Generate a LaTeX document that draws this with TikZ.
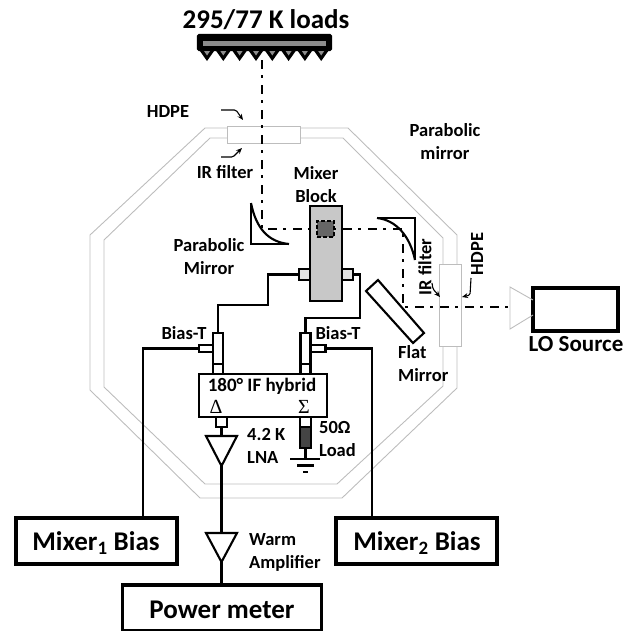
\documentclass[tikz,border=0pt]{standalone}
\usepackage{fontspec}
\setmainfont{Carlito}
\newfontfamily\symfont{Liberation Serif}
\usetikzlibrary{arrows.meta, calc}
\definecolor{wallGray}{HTML}{BDBDBD}
\definecolor{blockGray}{HTML}{C8C8C8}
\definecolor{stubGray}{HTML}{E4E4E4}
\definecolor{chipGray}{HTML}{666666}
\definecolor{loadGray}{HTML}{444444}
\definecolor{barGray}{HTML}{8C8C8C}
\begin{document}
\begin{tikzpicture}[
        x=1pt, y=-1pt,
        >={Stealth[length=6pt, width=5pt]},
        lbl/.style   ={font=\bfseries\fontsize{18.5}{23}\selectfont, align=center, inner sep=0pt},
        big/.style   ={lbl, font=\bfseries\fontsize{27}{30}\selectfont},
        wall/.style  ={draw=wallGray, line width=0.9pt},
        window/.style={draw=wallGray, fill=white, line width=0.9pt, inner sep=0pt, outer sep=0pt},
        part/.style  ={draw=black, line width=2.1pt, inner sep=0pt, outer sep=0pt},
        stub/.style  ={part, fill=stubGray},
        box/.style   ={part, line width=3.6pt, fill=white},
        wire/.style  ={draw=black, line width=2.1pt, line join=miter},
        beam/.style  ={draw=black, line width=2.2pt, dash pattern=on 9pt off 6pt on 3pt off 7pt},
        note/.style  ={->, draw=black, line width=1.1pt, rounded corners=1.5pt}
    ]
    \useasboundingbox (0,0) rectangle (636,630);

    % cryostat wall, outer then inner outline
    \draw[wall] (205,128) -- (348,128) -- (457,235) -- (457,388) -- (342,498) -- (200,498) -- (90,390) -- (90,235) -- cycle;
    \draw[wall] (210,138) -- (343,138) -- (443,238) -- (443,386) -- (337,484) -- (205,484) -- (104,387) -- (104,240) -- cycle;
    \node[window, minimum width=73pt, minimum height=17pt] (winTop) at (263.5,134.5) {};
    \node[window, minimum width=22pt, minimum height=82pt] (winSide) at (450,305) {};

    % loads with their teeth
    \node[part, fill=black, minimum width=133pt, minimum height=15pt, rounded corners=1pt] (loads) at (264.5,42.5) {};
    \fill[barGray] (203,41) rectangle (326,46);
    \foreach \tx in {207,223.3,239.6,256,272.3,288.6,304.9,321.2} {
        \fill[black, line join=round] (\tx-8.5,49) -- (\tx,61) -- (\tx+8.5,49) -- cycle;
        \fill[barGray] (\tx-3,51) -- (\tx,55.5) -- (\tx+3,51) -- cycle;
    }

    % mirrors
    \draw[wire] (251,203) -- (251,244) -- (289,244);
    \draw[wire] (251,203) .. controls (256,228) and (268,242) .. (289,244);
    \draw[wire] (377,218) -- (415,218) -- (415,260);
    \draw[wire] (377,218) .. controls (396,220) and (410,236) .. (415,260);
    \draw[part, fill=white] (366,291) -- (378,280) -- (424,333) -- (413,343) -- cycle;

    % mixer block
    \node[part, fill=blockGray, minimum width=32pt, minimum height=95pt] (block) at (326,253.5) {};
    \node[stub, minimum width=11pt, minimum height=11pt] (stubL) at (304.5,274.5) {};
    \node[stub, minimum width=11pt, minimum height=11pt] (stubR) at (347.5,274.5) {};

    % bias tees and hybrid
    \node[part, fill=white, minimum width=10pt, minimum height=31pt] (teeA) at (218,348.5) {};
    \node[part, fill=white, minimum width=10pt, minimum height=31pt] (teeB) at (305.5,348.5) {};
    \node[part, fill=white, minimum width=10pt, minimum height=10pt] (teeAlow) at (218,369) {};
    \node[part, fill=white, minimum width=10pt, minimum height=10pt] (teeBlow) at (305.5,369) {};
    \node[part, fill=white, minimum width=14pt, minimum height=7pt] (sideA) at (206,348.5) {};
    \node[part, fill=white, minimum width=15pt, minimum height=7pt] (sideB) at (318,348.5) {};
    \node[part, fill=white, minimum width=128pt, minimum height=43pt] (hybrid) at (263,395.5) {};
    \node[part, fill=white, minimum width=11pt, minimum height=10pt] (outD) at (221.5,422) {};
    \node[part, fill=white, minimum width=11pt, minimum height=10pt] (outS) at (305.5,422) {};
    \node[part, fill=loadGray, minimum width=11pt, minimum height=21pt] (dummy) at (305.5,437.5) {};

    % amplifiers are plain triangles, their tips named as coordinates
    \coordinate (lnaIn) at (221.5,436);
    \coordinate (lnaOut) at (221.5,466);
    \coordinate (warmIn) at (221.5,533);
    \coordinate (warmOut) at (221.5,562);
    \draw[part, line join=miter] (206,436) -- (237,436) -- (lnaOut) -- cycle;
    \draw[part, line join=miter] (206,533) -- (237,533) -- (warmOut) -- cycle;

    % instruments
    \node[box, minimum width=161pt, minimum height=46pt] (biasA) at (96.5,541) {};
    \node[box, minimum width=161pt, minimum height=46pt] (biasB) at (416.5,541) {};
    \node[box, minimum width=199pt, minimum height=46pt] (meter) at (222,608) {};
    \node[box, minimum width=85pt, minimum height=43pt] (lo) at (575.5,309.5) {};
    \draw[wall] ($(lo.west)+(0,-9.5)$) -- (510,287) -- (510,329) -- ($(lo.west)+(0,5.5)$);

    % wiring
    \coordinate (wireA) at (143,518);
    \coordinate (wireB) at (372,518);
    \coordinate (gnd) at (305.5,459);
    \draw[wire] (stubL.west) -- (268,274.5) -- (268,305) -- (218,305) -- (teeA.north);
    \draw[wire] (stubR.east) -- (360,274.5) -- (360,318) -- (305.5,318) -- (teeB.north);
    \draw[wire] (sideA.west) -| (wireA);
    \draw[wire] (sideB.east) -| (wireB);
    \draw[wire] (outD.south) -- (lnaIn);
    \draw[wire] (lnaOut) -- (warmIn);
    \draw[wire] (warmOut) -- (warmOut |- meter.north);
    \draw[wire] (dummy.south) -- (gnd);
    \draw[wire] (290,459) -- (320,459);
    \draw[wire] (297,465.5) -- (314,465.5);
    \draw[wire] (303,472) -- (308,472);

    % signal path
    \coordinate (beamA) at (262,60);
    \coordinate (beamB) at (262,229);
    \coordinate (beamC) at (403,229);
    \coordinate (beamD) at (403,307);
    \coordinate (beamE) at (510,307);
    \draw[beam] (beamA) -- (beamB) -- (beamC) -- (beamD) -- (beamE);
    \node[part, fill=chipGray, dash pattern=on 4pt off 2pt, minimum width=17pt, minimum height=16pt] (chip) at (325.5,229) {};

    % labels
    \node[big] (title) at (266,20) {295/77 K loads};
    \node[lbl] (hdpeTop) at (168,111) {HDPE};
    \node[lbl] (irTop) at (225,172) {IR filter};
    \node[lbl] (parR) at (445,142) {Parabolic\\mirror};
    \node[lbl] (mixLbl) at (316,185) {Mixer\\Block};
    \node[lbl] (parL) at (209,257) {Parabolic\\Mirror};
    \node[lbl, align=left, anchor=west] (flat) at (398,364) {Flat\\Mirror};
    \node[lbl, rotate=90] (irSide) at (425,267) {IR filter};
    \node[lbl, rotate=90] (hdpeSide) at (477,254) {HDPE};
    \node[lbl, font=\bfseries\fontsize{23}{26}\selectfont] (loLbl) at (576,344) {LO Source};
    \node[lbl] (teeLblA) at (184,333) {Bias-T};
    \node[lbl] (teeLblB) at (338,333) {Bias-T};
    \node[lbl, font=\bfseries\fontsize{19}{22}\selectfont] (hybLbl) at (262,386) {180° IF hybrid};
    \node[lbl, font=\symfont\fontsize{20}{20}\selectfont] (deltaLbl) at (216,407) {Δ};
    \node[lbl, font=\symfont\fontsize{20}{20}\selectfont] (sigmaLbl) at (304,407) {Σ};
    \node[lbl, align=left, anchor=west] (lnaLbl) at (247,446) {4.2 K\\LNA};
    \node[lbl, align=left, anchor=west] (loadLbl) at (319,439) {50Ω\\Load};
    \node[lbl, align=left, anchor=west, font=\bfseries\fontsize{18.5}{23}\selectfont] (warmLbl) at (249,552) {Warm\\Amplifier};
    \node[big] (biasLblA) at (96,543) {Mixer\textsubscript{1} Bias};
    \node[big] (biasLblB) at (417,543) {Mixer\textsubscript{2} Bias};
    \node[big] (meterLbl) at (222,610) {Power meter};

    % pointers to the windows
    \draw[note] (221,110) -- (236,110) -- (243,120);
    \draw[note] (221,157) -- (233,157) -- (242,148);
    \draw[note] (432,283) -- (433,289) -- (440,297);
    \draw[note] (471,278) -- (470,295) -- (462,297);
\end{tikzpicture}
\end{document}
